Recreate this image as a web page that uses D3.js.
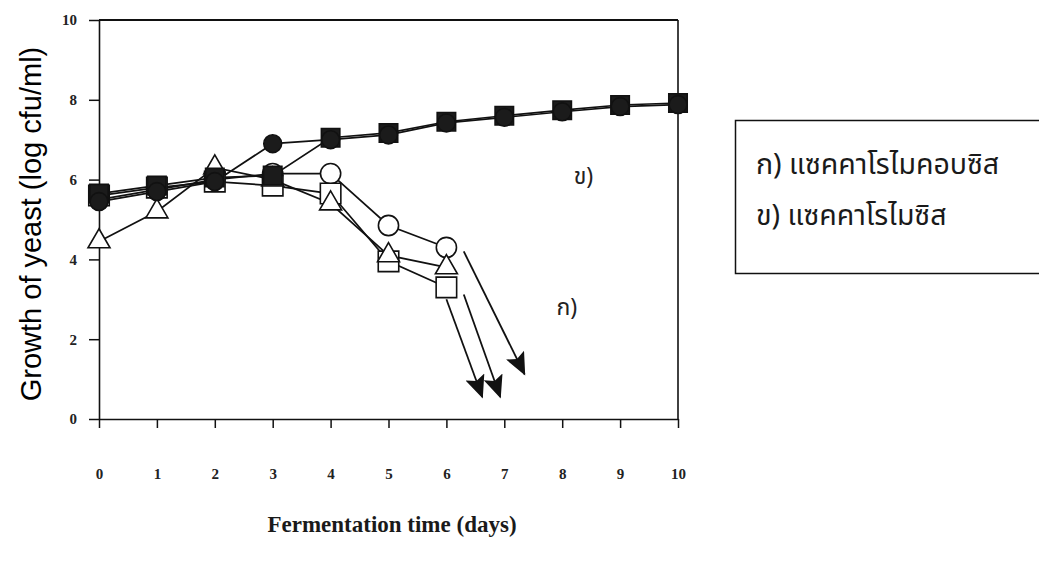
<!DOCTYPE html>
<html>
<head>
<meta charset="utf-8">
<script src="https://cdn.jsdelivr.net/npm/d3@7"></script>
<style>
  body { margin: 0; background: #fff; }
  svg { display: block; }
</style>
</head>
<body>
<svg id="chart" width="1039" height="564"></svg>
<script>
// Fermentation days on the x axis
const days = [0, 1, 2, 3, 4, 5, 6, 7, 8, 9, 10];
const xTicks = [0, 1, 2, 3, 4, 5, 6, 7, 8, 9, 10];
const yTicks = [0, 2, 4, 6, 8, 10];

// ก) Saccharomycopsis – open markers, counts fall after day 3
const openCircle   = [5.5, 5.75, 6.0, 6.15, 6.15, 4.85, 4.3];
const openTriangle = [4.45, 5.2, 6.3, 6.0, 5.4, 4.1, 3.8];
const openSquare   = [5.6, 5.8, 5.95, 5.85, 5.65, 3.95, 3.3];

// ข) Saccharomyces – filled markers, counts keep rising
const filledCircle = [5.45, 5.7, 5.95, 6.9, 7.0, 7.12, 7.42, 7.56, 7.7, 7.83, 7.88];
const filledSquare = [5.65, 5.85, 6.05, 6.1, 7.05, 7.17, 7.45, 7.6, 7.74, 7.87, 7.92];

// Arrows showing the drop below detection: start [day, log] and end [day, log]
const arrowStart = [[6.0, 3.0], [6.3, 3.12], [6.3, 4.2]];
const arrowEnd   = [[6.62, 0.55], [6.93, 0.55], [7.35, 1.12]];

const legendLabels = ["ก) แซคคาโรไมคอบซิส", "ข) แซคคาโรไมซิส"];
const curveTags = [{ text: "ข)", day: 8.2, val: 5.88 }, { text: "ก)", day: 7.9, val: 2.6 }];

const svg = d3.select("#chart");
const x = d3.scaleLinear().domain([0, 10]).range([99, 678]);
const y = d3.scaleLinear().domain([0, 10]).range([419, 20]);

const ink = "#111";
const serif = "'Liberation Serif', 'Times New Roman', serif";
const thai = "'Noto Sans Thai', 'Noto Sans', 'DejaVu Sans', sans-serif";

// frame: top and right edges
svg.append("line").attr("x1", x(0)).attr("x2", x(10)).attr("y1", y(10)).attr("y2", y(10))
  .attr("stroke", ink).attr("stroke-width", 2);
svg.append("line").attr("x1", x(10)).attr("x2", x(10)).attr("y1", y(10)).attr("y2", y(0))
  .attr("stroke", ink).attr("stroke-width", 1.6);

// axes
const xAxis = d3.axisBottom(x).tickValues(xTicks).tickFormat(d3.format("d"))
  .tickSizeInner(9).tickSizeOuter(0).tickPadding(40);
const gx = svg.append("g").attr("transform", `translate(0,${y(0)})`).call(xAxis);
const yAxis = d3.axisLeft(y).tickValues(yTicks).tickFormat(d3.format("d"))
  .tickSizeInner(10).tickSizeOuter(0).tickPadding(12);
const gy = svg.append("g").attr("transform", `translate(${x(0)},0)`).call(yAxis);

[gx, gy].forEach(g => {
  g.select(".domain").attr("stroke", ink).attr("stroke-width", 1.6);
  g.selectAll(".tick line").attr("stroke", ink).attr("stroke-width", 1.5);
  g.selectAll(".tick text").attr("fill", "#222").attr("font-family", serif)
    .attr("font-weight", "bold").attr("font-size", 15);
});

// axis titles
svg.append("text").attr("x", 392).attr("y", 532).attr("text-anchor", "middle")
  .attr("font-family", serif).attr("font-weight", "bold").attr("font-size", 23)
  .attr("fill", "#1a1a1a").text("Fermentation time (days)");
svg.append("text").attr("transform", "translate(41,224) rotate(-90)")
  .attr("text-anchor", "middle").attr("font-family", "'Liberation Sans', Arial, sans-serif")
  .attr("font-size", 29).attr("fill", "#000").text("Growth of yeast (log cfu/ml)");

// series
const series = [
  { values: openCircle,   shape: d3.symbolCircle,   size: 320, fill: "#fff" },
  { values: openSquare,   shape: d3.symbolSquare,   size: 420, fill: "#fff" },
  { values: openTriangle, shape: d3.symbolTriangle, size: 210, fill: "#fff" },
  { values: filledSquare, shape: d3.symbolSquare,   size: 340, fill: "#1b1b1b" },
  { values: filledCircle, shape: d3.symbolCircle,   size: 250, fill: "#1b1b1b" }
];

const line = d3.line().x((d, i) => x(days[i])).y(d => y(d));
const lineLayer = svg.append("g");
series.forEach(s => {
  lineLayer.append("path").datum(s.values).attr("d", line)
    .attr("fill", "none").attr("stroke", ink).attr("stroke-width", 1.7);
});

// arrows
svg.append("defs").append("marker").attr("id", "head")
  .attr("markerUnits", "userSpaceOnUse").attr("viewBox", "0 0 16 14")
  .attr("markerWidth", 24).attr("markerHeight", 20).attr("refX", 15).attr("refY", 7)
  .attr("orient", "auto")
  .append("path").attr("d", "M0,0 L16,7 L0,14 L3,7 Z").attr("fill", ink);
arrowStart.forEach((s, i) => {
  const e = arrowEnd[i];
  svg.append("line").attr("x1", x(s[0])).attr("y1", y(s[1]))
    .attr("x2", x(e[0])).attr("y2", y(e[1]))
    .attr("stroke", ink).attr("stroke-width", 1.8).attr("marker-end", "url(#head)");
});

// markers
const markLayer = svg.append("g");
series.forEach(s => {
  const sym = d3.symbol().type(s.shape).size(s.size);
  markLayer.append("g").selectAll("path").data(s.values).join("path")
    .attr("transform", (d, i) => `translate(${x(days[i])},${y(d)})`)
    .attr("d", sym).attr("fill", s.fill).attr("stroke", ink).attr("stroke-width", 1.6);
});

// curve tags
curveTags.forEach(t => {
  svg.append("text").attr("x", x(t.day)).attr("y", y(t.val))
    .attr("font-family", thai).attr("font-size", 23).attr("fill", "#222").text(t.text);
});

// legend box
svg.append("rect").attr("x", 735.5).attr("y", 120.5).attr("width", 330).attr("height", 153)
  .attr("fill", "none").attr("stroke", ink).attr("stroke-width", 1.5);
legendLabels.forEach((t, i) => {
  svg.append("text").attr("x", 756).attr("y", 174 + i * 51)
    .attr("font-family", thai).attr("font-size", 28.5).attr("fill", "#1a1a1a").text(t);
});
</script>
</body>
</html>
